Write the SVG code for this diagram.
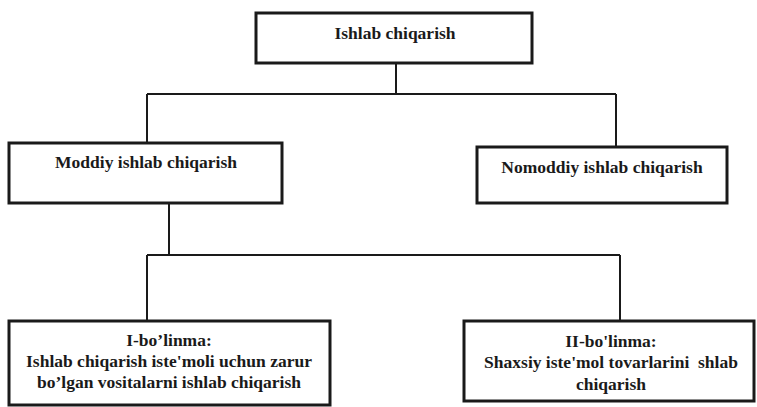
<svg xmlns="http://www.w3.org/2000/svg" width="757" height="407" viewBox="0 0 757 407">
<style>
.box{fill:#fff;stroke:#1a1a1a;stroke-width:3}
.t{font-family:"Liberation Serif","Times New Roman",serif;font-weight:bold;font-size:17.5px;fill:#1a1a1a;text-anchor:middle;white-space:pre}
.c{fill:none;stroke:#1a1a1a;stroke-width:2}
</style>
<rect width="757" height="407" fill="#fff"/>
<g id="connectors">
<path class="c" d="M396 63V94M147 94H616M147 94V142M616 94V147"/>
<path class="c" d="M169 203V255M147 255H620M147 255V321M620 255V321"/>
</g>
<g id="n1"><rect class="box" x="256" y="13" width="276" height="50"/><text class="t" x="395" y="39">Ishlab chiqarish</text></g>
<g id="n2"><rect class="box" x="9" y="143" width="273" height="60"/><text class="t" x="146" y="168">Moddiy ishlab chiqarish</text></g>
<g id="n3"><rect class="box" x="477" y="147" width="250" height="56"/><text class="t" x="602" y="173">Nomoddiy ishlab chiqarish</text></g>
<g id="n4"><rect class="box" x="9" y="321" width="321" height="84"/><text class="t" x="169" y="346">I-bo’linma:</text><text class="t" x="169" y="367">Ishlab chiqarish iste'moli uchun zarur</text><text class="t" x="169" y="388">bo’lgan vositalarni ishlab chiqarish</text></g>
<g id="n5"><rect class="box" x="464" y="321" width="290" height="80"/><text class="t" x="611" y="347">II-bo'linma:</text><text class="t" x="611" y="368" xml:space="preserve">Shaxsiy iste'mol tovarlarini  shlab</text><text class="t" x="611" y="390">chiqarish</text></g>
</svg>
